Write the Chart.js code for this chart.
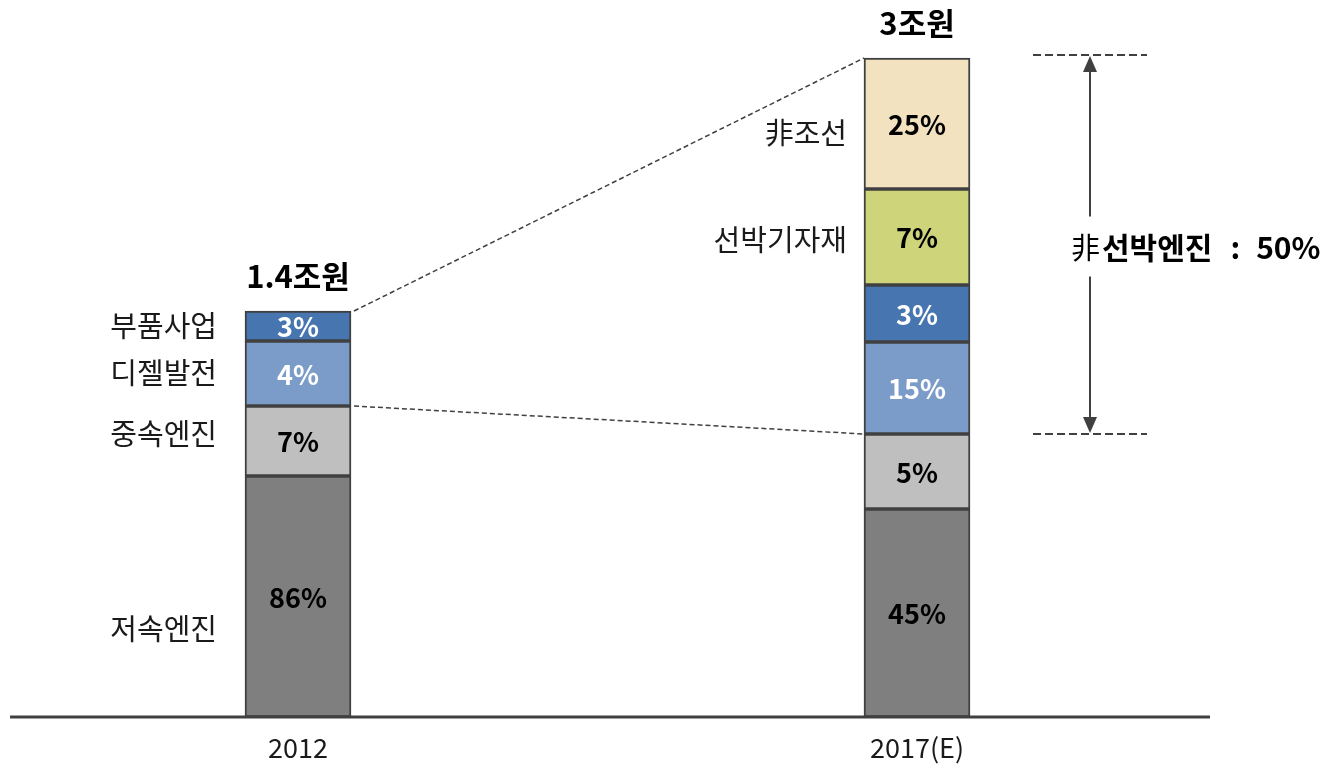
<!DOCTYPE html>
<html>
<head>
<meta charset="utf-8">
<script src="https://cdn.jsdelivr.net/npm/chart.js@4.4.1/dist/chart.umd.min.js"></script>
<style>
  html, body { margin: 0; padding: 0; background: #fff; }
  #wrap { width: 1330px; height: 764px; }
</style>
</head>
<body>
<div id="wrap"><canvas id="engineChart"></canvas></div>
<script>
// categories and totals
const years = ["2012", "2017(E)"];
const totals = ["1.4조원", "3조원"];

// segment heights as drawn (bar length units), bottom to top
const lowSpeed = [241, 208];     // 저속엔진
const midSpeed = [70, 75];       // 중속엔진
const dieselGen = [65, 92];      // 디젤발전
const parts = [30, 57];          // 부품사업
const equipment = [0, 96];       // 선박기자재
const nonShip = [0, 131];        // 非조선

// share labels printed inside the segments
const lowSpeedPct = ["86%", "45%"];
const midSpeedPct = ["7%", "5%"];
const dieselGenPct = ["4%", "15%"];
const partsPct = ["3%", "3%"];
const equipmentPct = [null, "7%"];
const nonShipPct = [null, "25%"];

const nonEngineNote = ["선박엔진", ":", "50%"];

const FONT = "'Noto Sans CJK KR', 'Noto Sans', sans-serif";

const datasets = [
  { label: "저속엔진", data: lowSpeed, pct: lowSpeedPct, backgroundColor: "#7f7f7f", txt: "#000" },
  { label: "중속엔진", data: midSpeed, pct: midSpeedPct, backgroundColor: "#bfbfbf", txt: "#000" },
  { label: "디젤발전", data: dieselGen, pct: dieselGenPct, backgroundColor: "#7b9bc9", txt: "#fff" },
  { label: "부품사업", data: parts, pct: partsPct, backgroundColor: "#4675b0", txt: "#fff" },
  { label: "선박기자재", data: equipment, pct: equipmentPct, backgroundColor: "#cdd47a", txt: "#000" },
  { label: "非조선", data: nonShip, pct: nonShipPct, backgroundColor: "#f2e2bf", txt: "#000" },
].map((d) => ({
  ...d,
  borderColor: "#404040",
  borderWidth: 2,
  borderSkipped: false,
  barThickness: 106,
  clip: false,
}));

// which side labels go next to which bar, gap to the bar and small vertical nudges
const sideLabels = [
  { bar: 0, gap: 28, ds: [3, 2, 1, 0], dy: [0, -1, -7, 32] },
  { bar: 1, gap: 17, ds: [5, 4], dy: [9, 3] },
];

function dashedLine(ctx, x1, y1, x2, y2, dash, width) {
  ctx.save();
  ctx.strokeStyle = "#404040";
  ctx.lineWidth = width || 1.5;
  ctx.setLineDash(dash || [5, 3]);
  ctx.beginPath();
  ctx.moveTo(x1, y1);
  ctx.lineTo(x2, y2);
  ctx.stroke();
  ctx.restore();
}

function arrowHead(ctx, x, y, dir) {
  ctx.beginPath();
  ctx.moveTo(x, y);
  ctx.lineTo(x - 7, y + dir * 16);
  ctx.lineTo(x + 7, y + dir * 16);
  ctx.closePath();
  ctx.fill();
}

const decorations = {
  id: "decorations",
  afterDatasetsDraw(chart) {
    const ctx = chart.ctx;
    const seg = (d, i) => chart.getDatasetMeta(d).data[i];

    // baseline
    const baseY = seg(0, 0).base;
    ctx.save();
    ctx.strokeStyle = "#404040";
    ctx.lineWidth = 3;
    ctx.beginPath();
    ctx.moveTo(10, baseY);
    ctx.lineTo(1210, baseY);
    ctx.stroke();

    // labels inside bars
    ctx.textAlign = "center";
    ctx.textBaseline = "middle";
    ctx.font = "bold 27px " + FONT;
    chart.data.datasets.forEach((ds, d) => {
      ds.pct.forEach((p, i) => {
        if (!p) return;
        const el = seg(d, i);
        ctx.fillStyle = ds.txt;
        ctx.fillText(p, el.x, (el.y + el.base) / 2 + 1);
      });
    });

    // side labels
    ctx.textAlign = "right";
    ctx.font = "29px " + FONT;
    ctx.fillStyle = "#1a1a1a";
    sideLabels.forEach((g) => {
      g.ds.forEach((d, k) => {
        const el = seg(d, g.bar);
        const x = el.x - el.width / 2 - g.gap;
        ctx.fillText(chart.data.datasets[d].label, x, (el.y + el.base) / 2 + g.dy[k]);
      });
    });

    // category labels and totals
    ctx.textAlign = "center";
    years.forEach((y, i) => {
      const el = seg(0, i);
      ctx.font = "27px " + FONT;
      ctx.fillStyle = "#1a1a1a";
      ctx.fillText(y, el.x, baseY + 31);
    });
    const tops = [seg(3, 0), seg(5, 1)];
    totals.forEach((t, i) => {
      ctx.font = "bold 31px " + FONT;
      ctx.fillStyle = "#000";
      ctx.fillText(t, tops[i].x, tops[i].y - 35);
    });

    // connectors between the bars
    const a = seg(3, 0), b = seg(5, 1), c = seg(1, 0), e = seg(1, 1);
    dashedLine(ctx, a.x + a.width / 2 + 3, a.y, b.x - b.width / 2, b.y, [5, 3], 1.5);
    dashedLine(ctx, c.x + c.width / 2 + 3, c.y, e.x - e.width / 2, e.y, [5, 3], 1.5);

    // span annotation on the right
    const topY = b.y - 3, botY = e.y;
    dashedLine(ctx, 1033, topY, 1147, topY, [8, 4], 2);
    dashedLine(ctx, 1033, botY, 1147, botY, [8, 4], 2);
    ctx.strokeStyle = "#404040";
    ctx.fillStyle = "#404040";
    ctx.lineWidth = 2;
    ctx.setLineDash([]);
    const ax = 1090, midY = (topY + botY) / 2 + 2;
    ctx.beginPath();
    ctx.moveTo(ax, topY + 14);
    ctx.lineTo(ax, midY - 30);
    ctx.moveTo(ax, midY + 30);
    ctx.lineTo(ax, botY - 14);
    ctx.stroke();
    arrowHead(ctx, ax, topY + 1, 1);
    arrowHead(ctx, ax, botY - 1, -1);

    // 非 + 선박엔진 : 50%
    ctx.textAlign = "left";
    ctx.fillStyle = "#000";
    ctx.font = "29px " + FONT;
    const ty = midY + 1;
    ctx.fillText("非", 1071, ty);
    ctx.font = "bold 30px " + FONT;
    let x = 1102;
    ctx.fillText(nonEngineNote[0], x, ty);
    x += ctx.measureText(nonEngineNote[0]).width + 18;
    ctx.fillText(nonEngineNote[1], x, ty);
    x += ctx.measureText(nonEngineNote[1]).width + 16;
    ctx.fillText(nonEngineNote[2], x, ty);
    ctx.restore();
  },
};

new Chart(document.getElementById("engineChart"), {
  type: "bar",
  data: { labels: years, datasets: datasets },
  plugins: [decorations],
  options: {
    responsive: true,
    maintainAspectRatio: false,
    animation: false,
    layout: { padding: { left: 298, right: 413, top: 0, bottom: 47 } },
    scales: {
      x: { stacked: true, display: false, offset: false },
      y: { stacked: true, display: false, min: 0, max: 717 },
    },
    plugins: {
      legend: { display: false },
      tooltip: { enabled: false },
    },
  },
});
</script>
</body>
</html>
